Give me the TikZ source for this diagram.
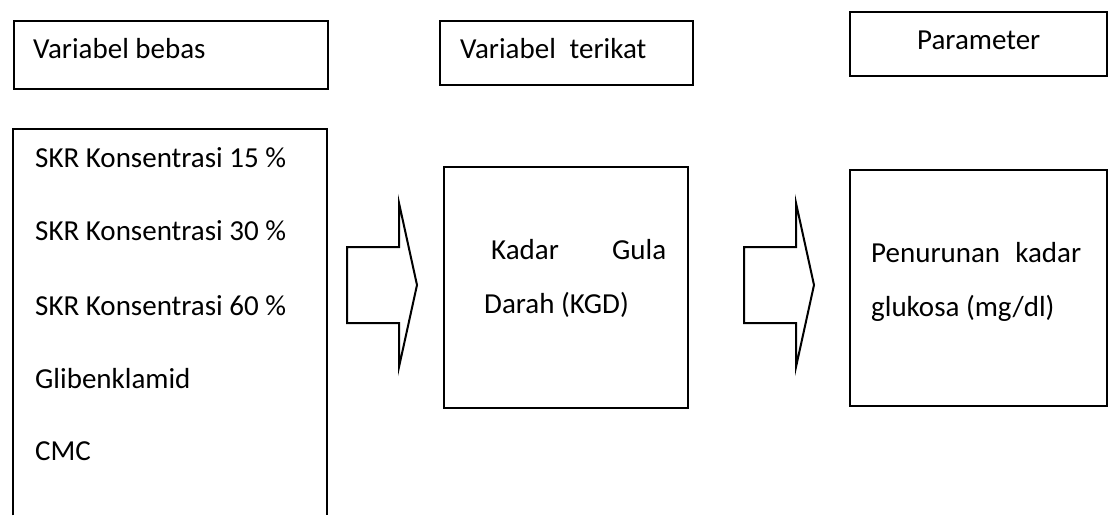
\documentclass[tikz,border=0pt]{standalone}
\usepackage{fontspec}
\setmainfont{Carlito}
\begin{document}
\begin{tikzpicture}[x=1pt,y=-1pt,
  frame/.style={draw=black,line width=2pt,inner sep=0pt,anchor=north west},
  label/.style={inner sep=0pt,anchor=base west,font=\fontsize{29pt}{34pt}\selectfont},
  blockarrow/.style={draw=black,line width=2pt,fill=white,line join=miter}]
\useasboundingbox (0,0) rectangle (1113,515);

% header boxes
\node[frame,minimum width=314pt,minimum height=68pt] (hbebas) at (13,20) {};
\node[frame,minimum width=253pt,minimum height=64pt] (hterikat) at (439,20) {};
\node[frame,minimum width=257pt,minimum height=64pt] (hparam) at (849,11) {};
\node[label] (tbebas) at (33,58) {Variabel bebas};
\node[label] (tterikat) at (460,58) {Variabel\hspace{0.25em} terikat};
\node[label] (tparam) at (917,49) {Parameter};

% list of treatments, open at the bottom
\node[inner sep=0pt,anchor=north west,minimum width=314pt,minimum height=386pt] (bebas) at (13,129) {};
\draw[line width=2pt] (bebas.south west) -- (bebas.north west) -- (bebas.north east) -- (bebas.south east);
\node[label] (s15) at (35,167) {SKR Konsentrasi 15 \%};
\node[label] (s30) at (35,240) {SKR Konsentrasi 30 \%};
\node[label] (s60) at (35,315) {SKR Konsentrasi 60 \%};
\node[label] (glib) at (35,388) {Glibenklamid};
\node[label] (cmc) at (35,460) {CMC};

% dependent variable
\node[frame,minimum width=244pt,minimum height=241pt] (kgd) at (443,166) {};
\node[label] (kgd1) at (491,259) {\makebox[175pt][s]{Kadar\hfill Gula}};
\node[label] (kgd2) at (484,313) {Darah (KGD)};

% parameter
\node[frame,minimum width=257pt,minimum height=236pt] (param) at (849,169) {};
\node[label] (par1) at (871,262) {\makebox[210pt][s]{Penurunan\hfill kadar}};
\node[label] (par2) at (871,316) {glukosa (mg/dl)};

% block arrows between the columns
\coordinate (arr1) at (347,285);
\coordinate (arr2) at (744,285);
\foreach \a in {arr1,arr2}
  \draw[blockarrow] (\a) ++(0,-38) -- ++(52,0) -- ++(0,-44) -- ++(18,82)
    -- ++(-18,82) -- ++(0,-44) -- ++(-52,0) -- cycle;
\end{tikzpicture}
\end{document}
